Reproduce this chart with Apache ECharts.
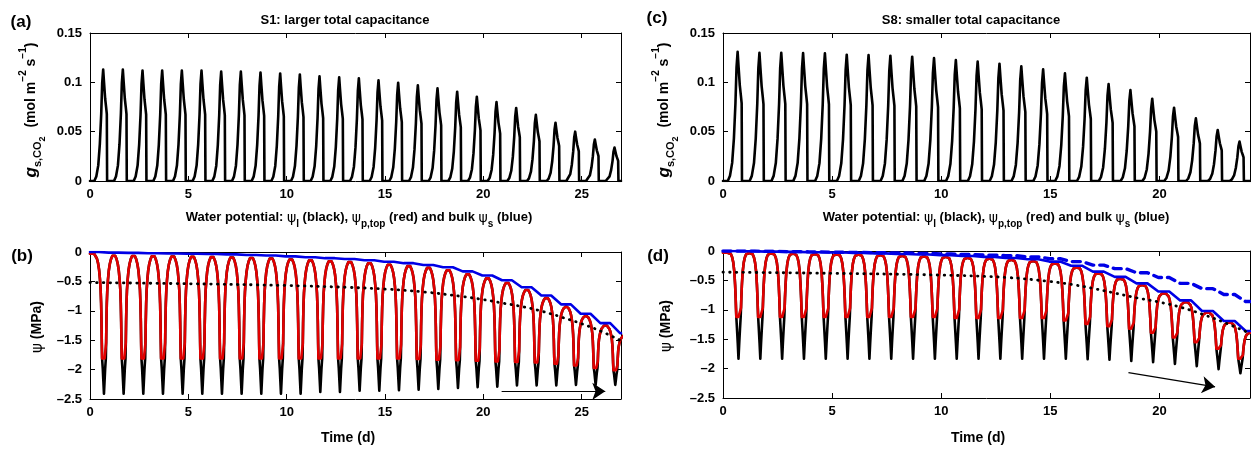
<!DOCTYPE html>
<html>
<head>
<meta charset="utf-8">
<script src="https://cdn.jsdelivr.net/npm/echarts@6/dist/echarts.min.js"></script>
<style>
html,body{margin:0;padding:0;background:#fff;}
#chart{width:1251px;height:450px;}
</style>
</head>
<body>
<div id="chart"></div>
<script>
// ---------------- DATA ----------------
const xTicks = [0, 5, 10, 15, 20, 25];
const xMaxS1 = 27;
const xMaxS8 = 24.15;

// daily peak stomatal conductance g_s,CO2 (mol m-2 s-1), one per day
const gsPeakS1 = [0.113,0.113,0.112,0.112,0.112,0.112,0.111,0.111,0.110,0.109,0.108,0.106,0.105,0.104,0.102,0.0996,0.097,0.094,0.0905,0.0854,0.080,0.074,0.067,0.059,0.050,0.042,0.034];
const gsPeakS8 = [0.131,0.130,0.130,0.1297,0.1294,0.128,0.1277,0.127,0.126,0.1245,0.1226,0.121,0.1189,0.1162,0.1131,0.1091,0.1047,0.0983,0.0922,0.0834,0.0743,0.0635,0.0517,0.0399];
// within-day shape of a g_s pulse: [time of day (d), fraction of daily peak]
const gsPulseShape = [[0.22,0],[0.32,0.04],[0.42,0.14],[0.5,0.33],[0.57,0.6],[0.62,0.88],[0.67,1.0],[0.715,0.88],[0.77,0.74],[0.82,0.66],[0.855,0.6],[0.87,0]];

// bulk psi_s (blue) at night before each day's dip, MPa (n+1 values)
const psiS_S1 = [0,-0.01,-0.015,-0.02,-0.025,-0.03,-0.035,-0.04,-0.05,-0.06,-0.075,-0.09,-0.105,-0.12,-0.14,-0.165,-0.19,-0.22,-0.26,-0.33,-0.40,-0.48,-0.60,-0.74,-0.89,-1.05,-1.21,-1.38];
const psiS_S8 = [0,-0.005,-0.01,-0.015,-0.02,-0.025,-0.03,-0.04,-0.05,-0.06,-0.07,-0.085,-0.10,-0.12,-0.14,-0.18,-0.25,-0.35,-0.44,-0.55,-0.69,-0.84,-1.02,-1.19,-1.36];
const psiSdashS8 = [0,0,-0.005,-0.01,-0.015,-0.02,-0.025,-0.03,-0.035,-0.04,-0.05,-0.06,-0.07,-0.08,-0.10,-0.13,-0.18,-0.24,-0.30,-0.37,-0.45,-0.55,-0.64,-0.74,-0.86];
// daily minimum of psi_p,top (red) and psi_l (black), MPa
const psiPminS1 = [-1.81,-1.81,-1.81,-1.81,-1.81,-1.81,-1.81,-1.81,-1.81,-1.81,-1.81,-1.81,-1.81,-1.81,-1.81,-1.81,-1.82,-1.83,-1.84,-1.85,-1.86,-1.87,-1.88,-1.90,-1.93,-1.97,-2.01];
const psiLminS1 = [-2.41,-2.41,-2.41,-2.41,-2.41,-2.41,-2.41,-2.41,-2.41,-2.41,-2.41,-2.38,-2.38,-2.36,-2.36,-2.35,-2.34,-2.33,-2.31,-2.30,-2.29,-2.27,-2.27,-2.27,-2.26,-2.26,-2.26];
const psiPminS8 = [-1.12,-1.12,-1.12,-1.12,-1.12,-1.12,-1.12,-1.12,-1.12,-1.12,-1.14,-1.14,-1.14,-1.14,-1.14,-1.18,-1.24,-1.28,-1.32,-1.39,-1.47,-1.55,-1.66,-1.83];
const psiLminS8 = [-1.83,-1.83,-1.83,-1.83,-1.83,-1.83,-1.83,-1.83,-1.83,-1.83,-1.83,-1.83,-1.83,-1.83,-1.83,-1.83,-1.84,-1.85,-1.87,-1.89,-1.92,-1.96,-2.01,-2.08];
// shape of a daily dip: [|t - t_min| (d), fraction of red depth, fraction of extra black depth]
const dipShapeS1 = [[0,1,1],[0.03,1,0.65],[0.06,1,0.3],[0.095,1,0],[0.11,0.85,0],[0.125,0.65,0],[0.145,0.47,0],[0.17,0.34,0],[0.205,0.24,0],[0.25,0.15,0],[0.3,0.09,0],[0.36,0.045,0],[0.43,0.013,0],[0.5,0,0]];
const dipShapeS8 = [[0,1,1],[0.035,1,0.62],[0.07,1,0.28],[0.1,1,0],[0.115,0.86,0],[0.13,0.7,0],[0.155,0.5,0],[0.19,0.3,0],[0.24,0.15,0],[0.29,0.07,0],[0.35,0.02,0],[0.42,0,0],[0.5,0,0]];
const dipPhase = 0.71;

// dotted black curve (sampled)
const dotT_S1 = [0,5,10,13,15,17,19,20,21,22,23,24,25,26,27];
const dotV_S1 = [-0.52,-0.54,-0.57,-0.60,-0.63,-0.68,-0.76,-0.81,-0.87,-0.93,-1.01,-1.11,-1.22,-1.35,-1.51];
const dotT_S8 = [0,5,10,13,15,16,17,18,19,20,21,22,23,24.15];
const dotV_S8 = [-0.36,-0.38,-0.41,-0.45,-0.52,-0.57,-0.64,-0.72,-0.80,-0.87,-0.96,-1.08,-1.22,-1.40];

// arrows (data coordinates)
const arrowS1 = [[20.93,-2.37],[26.2,-2.37]];
const arrowS8 = [[18.58,-2.07],[22.55,-2.31]];

// ---------------- BUILD ----------------
const FONT = "'Liberation Sans', Arial, Helvetica, sans-serif";
const RED = '#e10000', BLUE = '#0000e6';
const GAP = 0.03;

function gsData(peaks, shape, xmax){
  const pts=[[0,0]];
  peaks.forEach((p,d)=>shape.forEach(([ph,f])=>pts.push([d+ph,f*p])));
  pts.push([xmax,0]);
  return pts;
}
function dipData(tops, rmins, bmins, shape, black){
  const pts=[[0,tops[0]-GAP]];
  rmins.forEach((rmin,d)=>{
    const m=d+dipPhase;
    for(let i=shape.length-1;i>=0;i--){
      const [dt,f,g]=shape[i]; const top=tops[d]-GAP;
      pts.push([m-dt, top+f*(rmin-top)+(black?g*(bmins[d]-rmin):0)]);
    }
    for(let i=1;i<shape.length;i++){
      const [dt,f,g]=shape[i]; const top=tops[d+1]-GAP;
      pts.push([m+dt, top+f*(rmin-top)+(black?g*(bmins[d]-rmin):0)]);
    }
  });
  return pts;
}
function stepData(tops, n, xmax){
  const pts=[[0,tops[0]]];
  for(let d=0;d<n;d++){ pts.push([d+0.45,tops[d]]); pts.push([d+0.95,tops[d+1]]); }
  pts.push([xmax,tops[n]]);
  return pts;
}
function zip(a,b){ return a.map((v,i)=>[v,b[i]]); }

const dash = v => (v<0 ? '\u2013'+String(-v) : String(v));

function xAx(g,max,pos){
  return {type:'value',gridIndex:g,min:0,max:max,interval:5,position:pos,
    axisLine:{onZero:false,lineStyle:{color:'#000',width:1}},
    axisTick:{inside:true,length:5,lineStyle:{color:'#000',width:1}},
    axisLabel: pos==='bottom'?{show:true,showMaxLabel:false,color:'#000',fontWeight:'bold',fontSize:13,fontFamily:FONT,margin:7}:{show:false},
    splitLine:{show:false}};
}
function yAx(g,min,max,interval,pos){
  return {type:'value',gridIndex:g,min:min,max:max,interval:interval,position:pos,
    axisLine:{onZero:false,lineStyle:{color:'#000',width:1}},
    axisTick:{inside:true,length:5,lineStyle:{color:'#000',width:1}},
    axisLabel: pos==='left'?{show:true,color:'#000',fontWeight:'bold',fontSize:13,fontFamily:FONT,margin:8,formatter:dash}:{show:false},
    splitLine:{show:false}};
}

const grids=[
  {left:90,top:33,width:531,height:148},
  {left:90,top:252,width:531,height:147},
  {left:723,top:33,width:527,height:148},
  {left:723,top:251,width:527,height:147}
].map(g=>Object.assign({outerBoundsMode:'none',containLabel:false},g));

const xAxes=[], yAxes=[];
[[0,xMaxS1],[1,xMaxS1],[2,xMaxS8],[3,xMaxS8]].forEach(([g,mx])=>{ xAxes.push(xAx(g,mx,'bottom')); xAxes.push(xAx(g,mx,'top')); });
[[0,0,0.15,0.05],[1,-2.5,0,0.5],[2,0,0.15,0.05],[3,-2.5,0,0.5]].forEach(([g,a,b,i])=>{ yAxes.push(yAx(g,a,b,i,'left')); yAxes.push(yAx(g,a,b,i,'right')); });

function line(g,data,color,width,type,extra){
  return Object.assign({type:'line',xAxisIndex:2*g,yAxisIndex:2*g,data:data,showSymbol:false,symbol:'none',
    animation:false,silent:true,clip:true,
    lineStyle:{color:color,width:width,type:type||'solid',cap:'round',join:'round'}},extra||{});
}
function arrow(g,pts){
  return {type:'lines',coordinateSystem:'cartesian2d',xAxisIndex:2*g,yAxisIndex:2*g,animation:false,silent:true,z:10,
    symbol:['none','arrow'],symbolSize:13,
    lineStyle:{color:'#000',width:1.2,opacity:1,curveness:0},
    data:[{coords:pts}]};
}
const dotStyle=[0.5,6.2];

const series=[
  line(0,gsData(gsPeakS1,gsPulseShape,xMaxS1),'#000',2.6),
  line(2,gsData(gsPeakS8,gsPulseShape,xMaxS8),'#000',2.6),
  line(1,dipData(psiS_S1,psiPminS1,psiLminS1,dipShapeS1,true),'#000',2.6),
  line(1,dipData(psiS_S1,psiPminS1,psiLminS1,dipShapeS1,false),RED,2.6),
  line(1,stepData(psiS_S1,psiPminS1.length,xMaxS1),BLUE,2.6),
  line(1,zip(dotT_S1,dotV_S1),'#000',2.8,dotStyle,{smooth:0.4}),
  arrow(1,arrowS1),
  line(3,dipData(psiS_S8,psiPminS8,psiLminS8,dipShapeS8,true),'#000',2.6),
  line(3,dipData(psiS_S8,psiPminS8,psiLminS8,dipShapeS8,false),RED,2.6),
  line(3,stepData(psiS_S8,psiPminS8.length,xMaxS8),BLUE,2.6),
  line(3,stepData(psiSdashS8,psiPminS8.length,xMaxS8),BLUE,3.4,[8,6]),
  line(3,zip(dotT_S8,dotV_S8),'#000',2.8,dotStyle,{smooth:0.4}),
  arrow(3,arrowS8)
];

// text elements
const baseTok = {fontFamily:FONT,fontWeight:'bold',fill:'#000',verticalAlign:'top'};
function T(x,y,text,size,extra){
  return {type:'text',x:x,y:y,silent:true,z:100,
    style:Object.assign({text:text,fontFamily:FONT,fontWeight:'bold',fontSize:size,fill:'#000',align:'center',verticalAlign:'middle'},extra||{})};
}
const wpRich = {
  b:Object.assign({},baseTok,{fontSize:13,lineHeight:13,padding:[2,0,0,0]}),
  p:Object.assign({},baseTok,{fontSize:14,lineHeight:14,fontWeight:'normal',padding:[2,0,0,0],fontFamily:"'DejaVu Sans', sans-serif"}),
  s:Object.assign({},baseTok,{fontSize:10,lineHeight:10,padding:[10,0,0,0]})
};
const wpText = '{b|Water potential: }{p|\u03c8}{s|l}{b| (black), }{p|\u03c8}{s|p,top}{b| (red) and bulk }{p|\u03c8}{s|s}{b| (blue)}';
const gsRich = {
  g:Object.assign({},baseTok,{fontSize:17,lineHeight:17,fontStyle:'italic',padding:[5,0,0,0]}),
  s:Object.assign({},baseTok,{fontSize:11,lineHeight:11,padding:[15,0,0,0]}),
  ss:Object.assign({},baseTok,{fontSize:9,lineHeight:9,padding:[21,1,0,0]}),
  b:Object.assign({},baseTok,{fontSize:14,lineHeight:14,padding:[7,0,0,0]}),
  u:Object.assign({},baseTok,{fontSize:10,lineHeight:10,padding:[1,0,0,0]})
};
const gsText = '{g|g}{s|s,CO}{ss|2}{b|  (mol m}{u|\u22122}{b| s}{u|\u22121}{b|)}';
const psiRich = {
  p:Object.assign({},baseTok,{fontSize:15,lineHeight:15,fontWeight:'normal',fontFamily:"'DejaVu Sans', sans-serif"}),
  b:Object.assign({},baseTok,{fontSize:14,lineHeight:15})
};
const psiText = '{p|\u03c8}{b| (MPa)}';

const graphics=[
  T(21,22,'(a)',17), T(22,256,'(b)',17), T(657,18,'(c)',17), T(658,256,'(d)',17),
  T(345,20,'S1: larger total capacitance',13),
  T(971,20,'S8: smaller total capacitance',13),
  T(359,216,wpText,13,{rich:wpRich}),
  T(996,216,wpText,13,{rich:wpRich}),
  T(348,438,'Time (d)',14), T(978,438,'Time (d)',14),
  Object.assign(T(26,110,gsText,14,{rich:gsRich}),{rotation:Math.PI/2}),
  Object.assign(T(659,110,gsText,14,{rich:gsRich}),{rotation:Math.PI/2}),
  Object.assign(T(38,327,psiText,14,{rich:psiRich}),{rotation:Math.PI/2}),
  Object.assign(T(667,326,psiText,14,{rich:psiRich}),{rotation:Math.PI/2})
];

const chart = echarts.init(document.getElementById('chart'), null, {renderer:'canvas'});
chart.setOption({
  animation:false,
  backgroundColor:'#fff',
  grid:grids,
  xAxis:xAxes,
  yAxis:yAxes,
  series:series,
  graphic:graphics
});
</script>
</body>
</html>
